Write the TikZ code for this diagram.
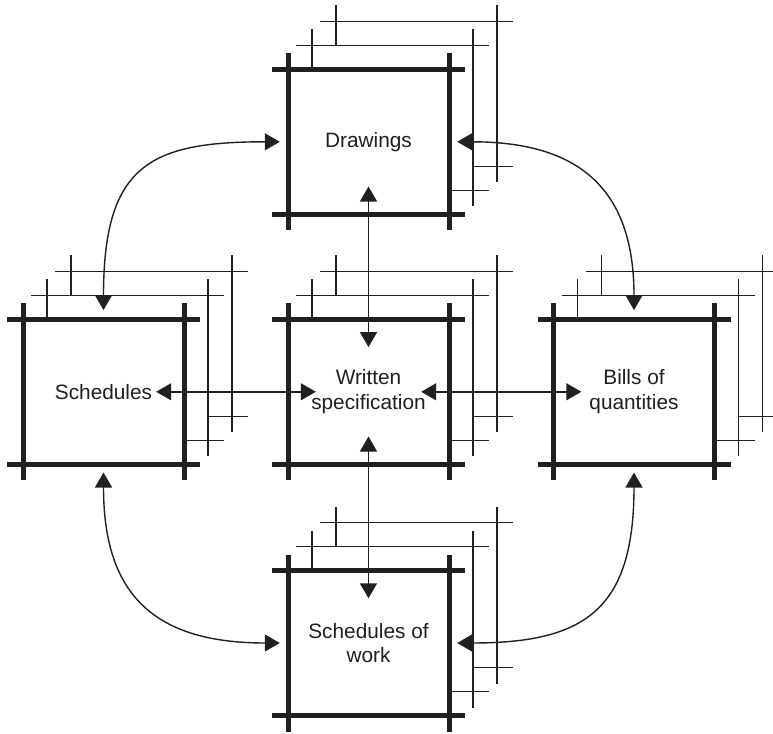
\documentclass[tikz,border=0pt]{standalone}
\usepackage{fontspec}
\setmainfont{Liberation Sans}
\usetikzlibrary{arrows.meta}
\definecolor{ink}{HTML}{231F20}

\begin{document}
\begin{tikzpicture}[x=1pt, y=-1pt]
    \tikzstyle{sheet}=[rectangle, inner sep=0pt, minimum width=161pt, minimum height=145pt, align=center, text=ink, font=\fontsize{20.8}{24.5}\selectfont]
    \tikzstyle{link}=[draw=ink, line width=1.4pt, {Triangle[length=15pt,width=17pt]}-{Triangle[length=15pt,width=17pt]}]

    \useasboundingbox (0,0) rectangle (773,733);

% Every document is a stack of three sheets with crop marks, the ones behind shifted up and to the right.

    \foreach \name/\cx/\cy/\txt in {draw/368.5/141.8/Drawings, spec/368.5/391.8/{Written\\specification}, sched/103.5/391.8/Schedules, bills/634/391.8/{Bills of\\quantities}, work/368.5/643/{Schedules of\\work}} {
        \foreach \k/\lw in {2/1.4, 1/1.4, 0/5} {
            \pgfmathsetmacro\sx{\cx+24*\k}
            \pgfmathsetmacro\sy{\cy-24*\k}
            \fill[white] (\sx-80.5,\sy-72.5) rectangle (\sx+80.5,\sy+72.5);
            \draw[draw=ink, line width=\lw pt] (\sx-96.5,\sy-72.5) -- (\sx+96.5,\sy-72.5) (\sx-96.5,\sy+72.5) -- (\sx+96.5,\sy+72.5) (\sx-80.5,\sy-88.5) -- (\sx-80.5,\sy+88.5) (\sx+80.5,\sy-88.5) -- (\sx+80.5,\sy+88.5);
        }
        \node [sheet] (\name) at (\cx,\cy) {\txt};
    }

    \draw[link] ([yshift=28pt]draw.south) -- ([yshift=-28pt]spec.north);
    \draw[link] ([yshift=28pt]spec.south) -- ([yshift=-28pt]work.north);
    \draw[link] ([xshift=-28pt]sched.east) -- ([xshift=28pt]spec.west);
    \draw[link] ([xshift=-28pt]spec.east) -- ([xshift=28pt]bills.west);

    \draw[link] ([xshift=-8pt]draw.west) .. controls +(-130,0) and +(0,-145) .. ([yshift=9pt]sched.north);
    \draw[link] ([xshift=8pt]draw.east) .. controls +(112,0) and +(0,-130) .. ([yshift=9pt]bills.north);
    \draw[link] ([yshift=-8pt]sched.south) .. controls +(0,118) and +(-130,0) .. ([xshift=-8pt]work.west);
    \draw[link] ([yshift=-8pt]bills.south) .. controls +(0,138) and +(127,0) .. ([xshift=8pt]work.east);

\end{tikzpicture}
\end{document}
